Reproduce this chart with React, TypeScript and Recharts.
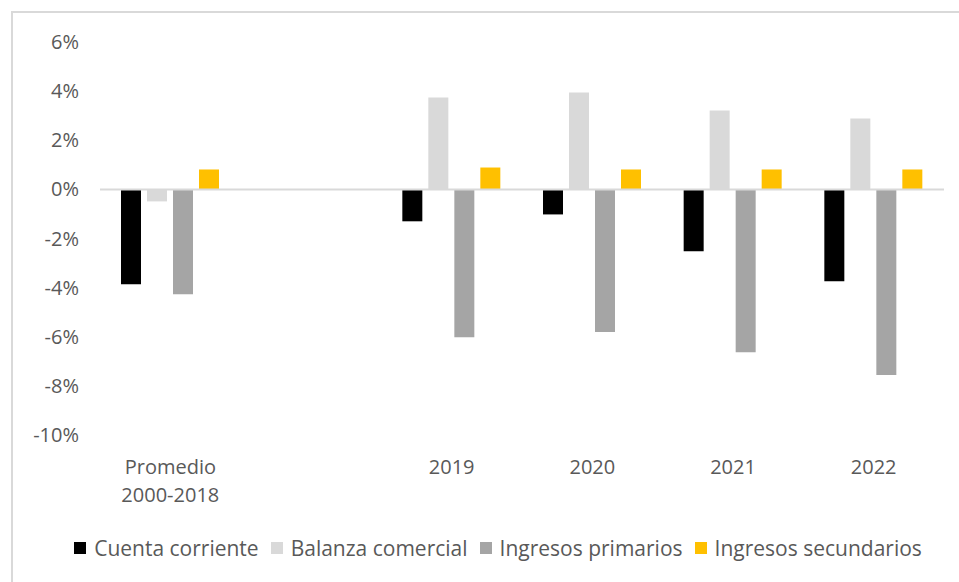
import React from 'react';
import {
  BarChart,
  Bar,
  XAxis,
  YAxis,
  Legend,
  ReferenceLine
} from 'recharts';

// categories (the blank one keeps the gap after the average)
const categories = ['Promedio 2000-2018', '', '2019', '2020', '2021', '2022'];

const cuentaCorriente = [-3.86, null, -1.3, -1.02, -2.52, -3.74];
const balanzaComercial = [-0.49, null, 3.74, 3.94, 3.21, 2.89];
const ingresosPrimarios = [-4.27, null, -6.02, -5.81, -6.63, -7.56];
const ingresosSecundarios = [0.81, null, 0.89, 0.81, 0.81, 0.81];

const yTicks = [-10, -8, -6, -4, -2, 0, 2, 4, 6];

const series = [
  { key: 'cc', name: 'Cuenta corriente', color: '#000000' },
  { key: 'bc', name: 'Balanza comercial', color: '#d9d9d9' },
  { key: 'ip', name: 'Ingresos primarios', color: '#a5a5a5' },
  { key: 'is', name: 'Ingresos secundarios', color: '#ffc000' }
];

const chartData = categories.map((cat, i) => ({
  cat,
  cc: cuentaCorriente[i],
  bc: balanzaComercial[i],
  ip: ingresosPrimarios[i],
  is: ingresosSecundarios[i]
}));

const textColor = '#595959';

const CategoryTick = (props: any) => {
  const { x, y, payload } = props;
  const label: string = payload.value;
  // split "Promedio 2000-2018" over two lines like the original
  const lines = label.startsWith('Promedio') ? ['Promedio', label.replace('Promedio ', '')] : [label];
  return (
    <text x={x} y={y} textAnchor="middle" fill={textColor} fontSize={20}>
      {lines.map((l, i) => (
        <tspan key={i} x={x} dy={i === 0 ? '0.71em' : 28}>
          {l}
        </tspan>
      ))}
    </text>
  );
};

const LegendContent = () => (
  <div style={{ display: 'flex', justifyContent: 'center', alignItems: 'center', paddingLeft: 37 }}>
    {series.map((s, i) => (
      <div
        key={s.key}
        style={{ display: 'flex', alignItems: 'center', marginRight: i === series.length - 1 ? 0 : 12 }}
      >
        <span style={{ width: 12, height: 12, background: s.color, display: 'inline-block', marginRight: 8 }} />
        <span style={{ color: textColor, fontSize: 21 }}>{s.name}</span>
      </div>
    ))}
  </div>
);

const App: React.FC = () => {
  return (
    <div
      style={{
        position: 'absolute',
        top: 0,
        left: 0,
        width: 959,
        height: 582,
        overflow: 'hidden',
        background: '#ffffff',
        fontFamily: '"Open Sans", sans-serif'
      }}
    >
      <div
        style={{
          position: 'absolute',
          left: 11,
          top: 11,
          width: 1100,
          height: 1000,
          borderLeft: '2px solid #d9d9d9',
          borderTop: '2px solid #d9d9d9'
        }}
      />
      <div style={{ position: 'absolute', top: 0, left: 0 }}>
        <BarChart
          width={959}
          height={582}
          data={chartData}
          margin={{ top: 42, right: 15, left: 0, bottom: 0 }}
          barSize={20}
          barGap={6}
        >
          <XAxis
            dataKey="cat"
            axisLine={false}
            tickLine={false}
            tickSize={0}
            tickMargin={25}
            height={147}
            interval={0}
            tick={<CategoryTick />}
          />
          <YAxis
            domain={[-10, 6]}
            ticks={yTicks}
            interval={0}
            width={100}
            axisLine={false}
            tickLine={false}
            tickSize={0}
            tickMargin={21}
            tick={{ fill: textColor, fontSize: 20 }}
            tickFormatter={(v) => `${v}%`}
          />
          <ReferenceLine y={0} stroke="#d9d9d9" strokeWidth={2} />
          {series.map((s) => (
            <Bar key={s.key} dataKey={s.key} name={s.name} fill={s.color} isAnimationActive={false} />
          ))}
          <Legend
            layout="vertical"
            align="center"
            verticalAlign="middle"
            wrapperStyle={{ top: 534, left: 0, width: 959 }}
            content={<LegendContent />}
          />
        </BarChart>
      </div>
    </div>
  );
};

export default App;
